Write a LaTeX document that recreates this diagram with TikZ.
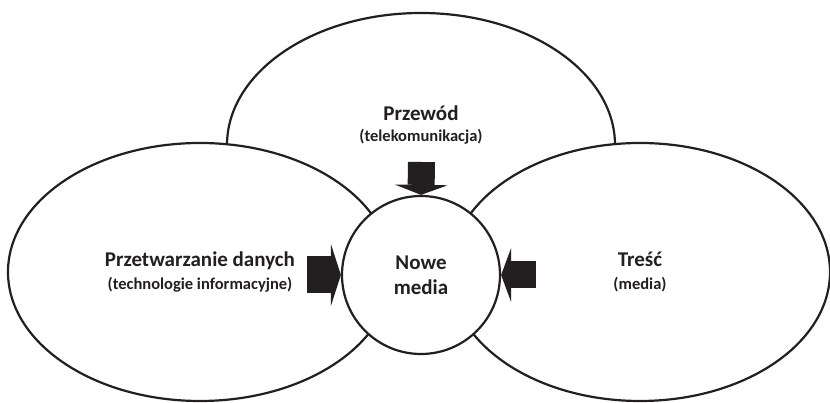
\documentclass[tikz,border=0pt]{standalone}
\usepackage{fontspec}
\setmainfont{Carlito}
\usetikzlibrary{arrows.meta,shapes.geometric}

\definecolor{ciemny}{HTML}{231F20}
\tikzset{
  obszar/.style={ellipse,draw=ciemny,fill=white,line width=2.2pt,inner sep=0pt,
    align=center,text=ciemny,font=\bfseries\fontsize{16.5}{23}\selectfont},
  rdzen/.style={circle,draw=ciemny,fill=white,line width=2.2pt,inner sep=0pt,
    minimum size=158pt,align=center,text=ciemny,font=\bfseries\fontsize{21}{25}\selectfont},
  podpis/.style={align=center,text=ciemny,font=\bfseries\fontsize{16.5}{21}\selectfont},
  blok/.style={draw=ciemny,ciemny}
}
\newcommand{\tytul}[1]{{\fontsize{21}{25}\selectfont #1}}

\begin{document}
\begin{tikzpicture}[x=1pt,y=1pt]
  \useasboundingbox (0,0) rectangle (830,403);
  \node[obszar,minimum width=388pt,minimum height=264pt] (gora) at (421,258) {};
  \node[podpis] (przewod) at (421,278) {\tytul{Przewód}\\(telekomunikacja)};
  \node[obszar,minimum width=384pt,minimum height=258pt] (lewy) at (200,131)
    {\tytul{Przetwarzanie danych}\\(technologie informacyjne)};
  \node[obszar,minimum width=380pt,minimum height=258pt] (prawy) at (640,131)
    {\tytul{Treść}\\(media)};
  \node[rdzen] (nowe) at (421,128) {Nowe\\media};
  \coordinate (zgory) at (421.5,241);
  \coordinate (zlewej) at (307,128);
  \coordinate (zprawej) at (536,128);
  \draw[blok,line width=27pt,-{Triangle[length=10pt,width=53pt,line width=0pt]}] (zgory) -- (nowe.north);
  \draw[blok,line width=37pt,-{Triangle[length=10pt,width=62pt,line width=0pt]}] (zlewej) -- (nowe.west);
  \draw[blok,line width=27pt,-{Triangle[length=10pt,width=54pt,line width=0pt]}] (zprawej) -- (nowe.east);
\end{tikzpicture}
\end{document}
